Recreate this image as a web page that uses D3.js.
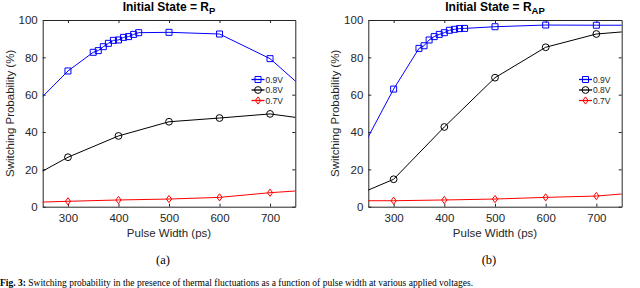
<!DOCTYPE html>
<html><head><meta charset="utf-8">
<script src="https://cdn.jsdelivr.net/npm/d3@7"></script>
<style>
html,body{margin:0;padding:0;background:#fff;}
svg{display:block;font-family:"Liberation Sans",Arial,Helvetica,sans-serif;}
</style></head>
<body>
<svg id="chart" width="640" height="288"></svg>
<script>
// ---- data ----
const xDense = [200,300,350,360,370,380,390,400,410,420,430,440,500,600,700,800];
const xSparse = [200,300,400,500,600,700,800];
const xTicks = [300,400,500,600,700];
const yTicks = [0,20,40,60,80,100];
const legendLabels = ["0.9V","0.8V","0.7V"];

const rp09 = [45.3,72.7,82.7,83.6,85.7,87.5,89.1,89.3,90.7,91.1,92.3,93.2,93.4,92.5,79.3,55.3];
const rp08 = [11.7,26.5,37.9,45.5,47.5,49.7,46.0];
const rp07 = [2.1,2.9,3.6,4.1,5.0,7.5,9.3];

const rap09 = [12.0,63.0,84.8,86.2,89.3,91.1,92.3,93.2,94.5,95.0,95.4,95.5,96.4,97.3,97.2,97.2];
const rap08 = [3.1,14.7,42.7,69.1,85.4,92.5,94.7];
const rap07 = [3.2,3.2,3.6,4.1,5.0,5.7,7.9];

const svg = d3.select("#chart");
const axisColor = "#262626";

function markerPath(type){
  if(type==="square") return "M-3,-3H3V3H-3Z";
  if(type==="diamond") return "M0,-3.6L2.6,0L0,3.6L-2.6,0Z";
  return d3.arc()({innerRadius:0,outerRadius:3.4,startAngle:0,endAngle:2*Math.PI});
}

function drawPanel(id, x0, x1, title, sub, series, legendX, label){
  const y0 = 20, y1 = 206.7;
  const x = d3.scaleLinear().domain([250,750]).range([x0,x1]);
  const y = d3.scaleLinear().domain([0,100]).range([y1,y0]);
  const g = svg.append("g");

  g.append("clipPath").attr("id","clip"+id)
    .append("rect").attr("x",x0).attr("y",y0).attr("width",x1-x0).attr("height",y1-y0);

  // axes (box with inward ticks)
  const bottom = g.append("g").attr("transform",`translate(0,${y1})`)
    .call(d3.axisBottom(x).tickValues(xTicks).tickSizeInner(-3).tickSizeOuter(0).tickPadding(7));
  const top = g.append("g").attr("transform",`translate(0,${y0})`)
    .call(d3.axisTop(x).tickValues(xTicks).tickSizeInner(-3).tickSizeOuter(0).tickFormat(""));
  const left = g.append("g").attr("transform",`translate(${x0},0)`)
    .call(d3.axisLeft(y).tickValues(yTicks).tickSizeInner(-3).tickSizeOuter(0).tickPadding(5));
  const right = g.append("g").attr("transform",`translate(${x1},0)`)
    .call(d3.axisRight(y).tickValues(yTicks).tickSizeInner(-3).tickSizeOuter(0).tickFormat(""));
  [bottom,top,left,right].forEach(a=>{
    a.select(".domain").attr("stroke",axisColor).attr("stroke-width",1);
    a.selectAll(".tick line").attr("stroke",axisColor);
    a.selectAll("text").attr("fill",axisColor).style("font-size","11.5px")
      .style("font-family",'"Liberation Sans",Arial,sans-serif');
  });

  // series
  const plot = g.append("g").attr("clip-path",`url(#clip${id})`);
  series.forEach(s=>{
    const pts = s.xs.map((v,i)=>[v,s.ys[i]]);
    plot.append("path").datum(pts)
      .attr("fill","none").attr("stroke",s.color).attr("stroke-width",1)
      .attr("d",d3.line().x(d=>x(d[0])).y(d=>y(d[1])));
    plot.selectAll(null).data(pts.filter(d=>d[0]>=250 && d[0]<=750)).enter()
      .append("path").attr("d",markerPath(s.marker))
      .attr("transform",d=>`translate(${x(d[0])},${y(d[1])})`)
      .attr("fill","none").attr("stroke",s.color).attr("stroke-width",1);
  });

  // legend
  const ly = [79.5,90,100.5];
  series.forEach((s,i)=>{
    const lg = g.append("g").attr("transform",`translate(${legendX},${ly[i]})`);
    lg.append("line").attr("x1",0).attr("x2",13).attr("stroke",s.color).attr("stroke-width",1.3);
    lg.append("path").attr("d",markerPath(s.marker)).attr("transform","translate(6.5,0)")
      .attr("fill","none").attr("stroke",s.color);
    lg.append("text").attr("x",14).attr("y",3).style("font-size","8.5px").attr("fill",axisColor).text(label[i]);
  });

  // title
  const cx = (x0+x1)/2;
  const t = g.append("text").attr("x",cx).attr("y",11).attr("text-anchor","middle")
    .style("font-size","12px").style("font-weight","bold").attr("fill","#000");
  t.append("tspan").text(title);
  t.append("tspan").attr("dy",3).style("font-size","9.5px").text(sub);

  // axis labels
  g.append("text").attr("x",cx).attr("y",237).attr("text-anchor","middle")
    .style("font-size","11.5px").attr("fill",axisColor).text("Pulse Width (ps)");
  g.append("text").attr("transform",`translate(${x0-29},${(y0+y1)/2}) rotate(-90)`)
    .attr("text-anchor","middle").style("font-size","11.5px").attr("fill",axisColor)
    .text("Switching Probability (%)");

  // sub caption
  g.append("text").attr("x",cx-6).attr("y",264).attr("text-anchor","middle")
    .style("font-family",'"Liberation Serif","Times New Roman",serif').style("font-size","12.5px")
    .attr("fill","#000").text(id==="a"?"(a)":"(b)");
}

drawPanel("a", 42.7, 295.3, "Initial State = R", "P", [
  {xs:xDense, ys:rp09, color:"#0000ff", marker:"square"},
  {xs:xSparse, ys:rp08, color:"#000000", marker:"circle"},
  {xs:xSparse, ys:rp07, color:"#ff0000", marker:"diamond"}
], 251.5, legendLabels);

drawPanel("b", 368.3, 621.7, "Initial State = R", "AP", [
  {xs:xDense, ys:rap09, color:"#0000ff", marker:"square"},
  {xs:xSparse, ys:rap08, color:"#000000", marker:"circle"},
  {xs:xSparse, ys:rap07, color:"#ff0000", marker:"diamond"}
], 579, legendLabels);

// figure caption (at the very bottom edge)
const cap = svg.append("text").attr("x",0).attr("y",285.5)
  .style("font-family",'"Liberation Serif","Times New Roman",serif').style("font-size","9.5px").attr("fill","#000");
cap.append("tspan").style("font-weight","bold").text("Fig. 3: ");
cap.append("tspan").text("Switching probability in the presence of thermal fluctuations as a function of pulse width at various applied voltages.");
</script>
</body></html>
